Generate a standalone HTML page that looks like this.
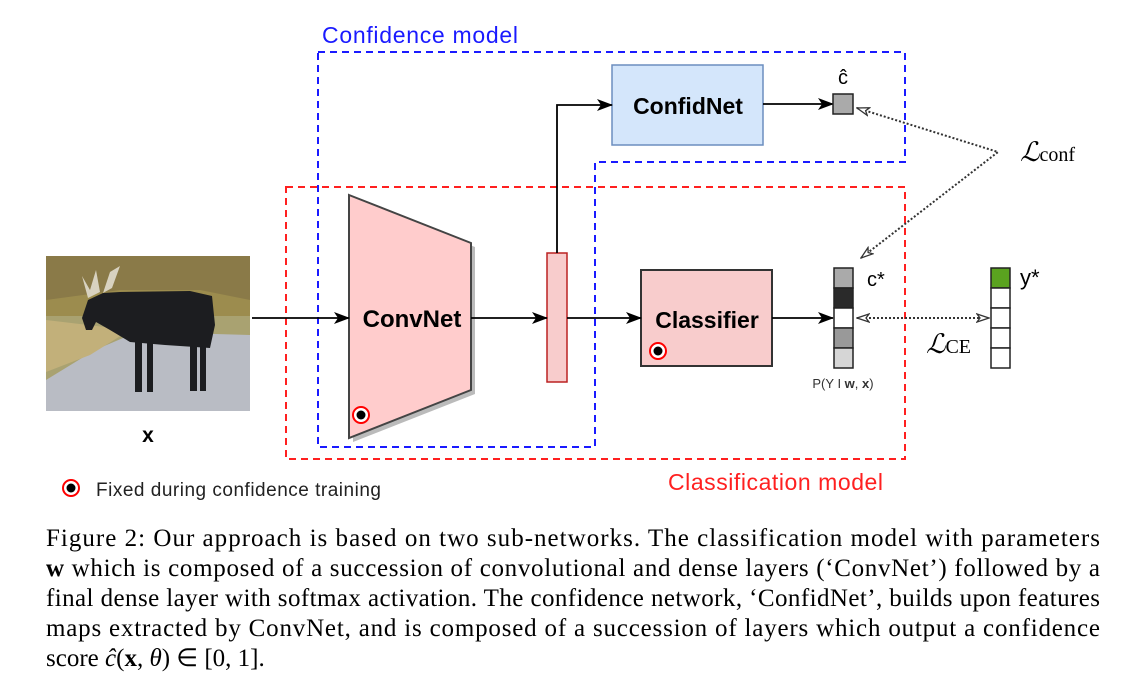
<!DOCTYPE html>
<html><head><meta charset="utf-8"><style>
html,body{margin:0;padding:0;background:#fff;}
svg{display:block;}
</style></head><body>
<svg width="1132" height="686" viewBox="0 0 1132 686" xmlns="http://www.w3.org/2000/svg">
<defs>
<marker id="ah" markerWidth="16" markerHeight="12" refX="15" refY="6" orient="auto" markerUnits="userSpaceOnUse">
<path d="M0,0 L16,6 L0,12 L4,6 Z" fill="#000"/></marker>
<marker id="oh" markerWidth="14" markerHeight="10" refX="1" refY="5" orient="auto" markerUnits="userSpaceOnUse">
<path d="M13,1 L1,5 L13,9 L10,5 Z" fill="#fff" stroke="#333" stroke-width="1.3"/></marker>
<marker id="oh2" markerWidth="14" markerHeight="10" refX="13" refY="5" orient="auto" markerUnits="userSpaceOnUse">
<path d="M1,1 L13,5 L1,9 L4,5 Z" fill="#fff" stroke="#333" stroke-width="1.3"/></marker>
</defs>
<!-- image -->
<rect x="46" y="256" width="204" height="155" fill="#a9a271"/>
<rect x="46" y="256" width="204" height="60" fill="#9c8c4e"/>
<path d="M46,256 L250,256 L250,300 L200,290 L120,290 L46,300 Z" fill="#8a7a48"/>
<path d="M46,380 L95,350 L130,335 L180,333 L250,335 L250,411 L46,411 Z" fill="#b9bcc4"/>
<path d="M46,320 L130,330 L90,355 L46,372 Z" fill="#c2b07a"/>
<g fill="#1c1d20">
<path d="M82,318 L88,300 L103,293 L120,292 L190,291 L212,296 L215,325 L210,348 L165,345 L130,342 L110,330 L96,322 L92,330 L86,330 Z"/>
<rect x="135" y="335" width="7" height="57"/>
<rect x="147" y="335" width="6" height="57"/>
<rect x="190" y="335" width="7" height="56"/>
<rect x="200" y="335" width="6" height="56"/>
</g>
<path d="M88,298 L82,276 L90,290 L96,270 L100,292 Z M103,293 L110,272 L120,266 L112,288 Z" fill="#d8d2c0"/>
<text x="148" y="442" font-family="Liberation Sans, sans-serif" font-weight="bold" font-size="21" text-anchor="middle">x</text>

<path d="M318,52 L905,52 L905,162 L595,162 L595,447 L318,447 Z" fill="none" stroke="#1a1aff" stroke-width="2" stroke-dasharray="7,5"/>
<rect x="286" y="187" width="619" height="272" fill="none" stroke="#ff2020" stroke-width="2" stroke-dasharray="7,5"/>
<text x="322" y="43" font-family="Liberation Sans, sans-serif" font-size="23" fill="#1a1aff" textLength="196">Confidence model</text>
<text x="668" y="490" font-family="Liberation Sans, sans-serif" font-size="23" fill="#ff2020" textLength="215">Classification model</text>

<path d="M353,199 L475,247 L475,394 L353,442 Z" fill="#bbb"/>
<path d="M349,195 L471,243 L471,390 L349,438 Z" fill="#ffcccc" stroke="#444" stroke-width="2"/>
<text x="412" y="327" font-family="Liberation Sans, sans-serif" font-weight="bold" font-size="24" text-anchor="middle">ConvNet</text>
<circle cx="361" cy="415" r="8" fill="#fff" stroke="#f00" stroke-width="2"/>
<circle cx="361" cy="415" r="4.5" fill="#000"/>
<rect x="547" y="253" width="20" height="129" fill="#f8cccc" stroke="#b22" stroke-width="1.5"/>
<rect x="641" y="270" width="131" height="96" fill="#f8cccc" stroke="#333" stroke-width="2"/>
<text x="707" y="328" font-family="Liberation Sans, sans-serif" font-weight="bold" font-size="23" text-anchor="middle">Classifier</text>
<circle cx="658" cy="351" r="8" fill="#fff" stroke="#f00" stroke-width="2"/>
<circle cx="658" cy="351" r="4.5" fill="#000"/>
<rect x="612" y="65" width="151" height="80" fill="#d4e6fb" stroke="#6c8ebf" stroke-width="1.5"/>
<text x="688" y="114" font-family="Liberation Sans, sans-serif" font-weight="bold" font-size="23" text-anchor="middle">ConfidNet</text>

<g stroke="#000" stroke-width="1.8" fill="none">
<line x1="252" y1="318" x2="349" y2="318" marker-end="url(#ah)"/>
<line x1="471" y1="318" x2="547" y2="318" marker-end="url(#ah)"/>
<line x1="567" y1="318" x2="641" y2="318" marker-end="url(#ah)"/>
<line x1="772" y1="318" x2="833" y2="318" marker-end="url(#ah)"/>
<path d="M557,253 L557,105 L612,105" marker-end="url(#ah)"/>
<line x1="763" y1="104" x2="833" y2="104" marker-end="url(#ah)"/>
</g>

<rect x="833" y="94" width="20" height="20" fill="#aaa" stroke="#222" stroke-width="1.5"/>
<text x="843" y="84" font-family="Liberation Sans, sans-serif" font-size="20" text-anchor="middle">ĉ</text>
<g stroke="#222" stroke-width="1.5">
<rect x="834" y="268" width="19" height="20" fill="#aaa"/>
<rect x="834" y="288" width="19" height="20" fill="#2a2a2a"/>
<rect x="834" y="308" width="19" height="20" fill="#fff"/>
<rect x="834" y="328" width="19" height="20" fill="#999"/>
<rect x="834" y="348" width="19" height="20" fill="#d6d6d6"/>
</g>
<text x="867" y="286" font-family="Liberation Sans, sans-serif" font-size="20">c*</text>
<text x="843" y="388" font-family="Liberation Sans, sans-serif" font-size="13" text-anchor="middle" fill="#333">P(Y I <tspan font-weight="bold">w</tspan>, <tspan font-weight="bold">x</tspan>)</text>
<g stroke="#222" stroke-width="1.5">
<rect x="991" y="268" width="19" height="20" fill="#5aa31f"/>
<rect x="991" y="288" width="19" height="20" fill="#fff"/>
<rect x="991" y="308" width="19" height="20" fill="#fff"/>
<rect x="991" y="328" width="19" height="20" fill="#fff"/>
<rect x="991" y="348" width="19" height="20" fill="#fff"/>
</g>
<text x="1020" y="285" font-family="Liberation Sans, sans-serif" font-size="22">y*</text>

<g stroke="#333" stroke-width="2" fill="none" stroke-dasharray="2,2">
<path d="M857,108 L998,152 L861,258" marker-start="url(#oh)" marker-end="url(#oh2)"/>
<line x1="857" y1="318" x2="989" y2="318" marker-start="url(#oh)" marker-end="url(#oh2)"/>
</g>
<text x="1020" y="161" font-family="Liberation Serif, serif" font-size="27" font-style="italic">ℒ<tspan font-style="normal" font-size="20">conf</tspan></text>
<text x="926" y="353" font-family="Liberation Serif, serif" font-size="27" font-style="italic">ℒ<tspan font-style="normal" font-size="20">CE</tspan></text>

<circle cx="71" cy="488" r="8" fill="#fff" stroke="#f00" stroke-width="2"/>
<circle cx="71" cy="488" r="4.5" fill="#000"/>
<text x="96" y="496" font-family="Liberation Sans, sans-serif" font-size="19" fill="#222" textLength="285">Fixed during confidence training</text>

<g font-family="Liberation Serif, serif" font-size="25" fill="#000">
<text x="46" y="546" textLength="1054" lengthAdjust="spacing">Figure 2: Our approach is based on two sub-networks. The classification model with parameters</text>
<text x="46" y="576" textLength="1054" lengthAdjust="spacing"><tspan font-weight="bold">w</tspan> which is composed of a succession of convolutional and dense layers (‘ConvNet’) followed by a</text>
<text x="46" y="606" textLength="1054" lengthAdjust="spacing">final dense layer with softmax activation. The confidence network, ‘ConfidNet’, builds upon features</text>
<text x="46" y="636" textLength="1054" lengthAdjust="spacing">maps extracted by ConvNet, and is composed of a succession of layers which output a confidence</text>
<text x="46" y="666">score <tspan font-style="italic">ĉ</tspan>(<tspan font-weight="bold">x</tspan>, <tspan font-style="italic">θ</tspan>) ∈ [0, 1].</text>
</g>
</svg>
</body></html>
